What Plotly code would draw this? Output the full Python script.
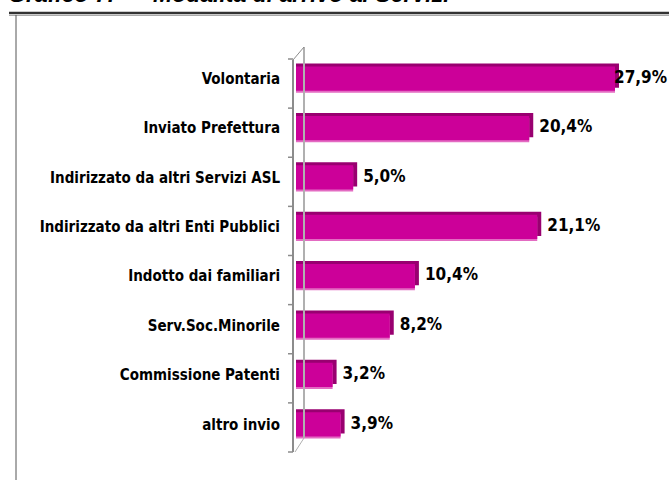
import plotly.graph_objects as go

categories = ["Volontaria", "Inviato Prefettura", "Indirizzato da altri Servizi ASL",
              "Indirizzato da altri Enti Pubblici", "Indotto dai familiari",
              "Serv.Soc.Minorile", "Commissione Patenti", "altro invio"]
values = [27.9, 20.4, 5.0, 21.1, 10.4, 8.2, 3.2, 3.9]
labels = [f"{v:.1f}%".replace(".", ",") for v in values]

W, H = 669, 480
ML, MR, MT, MB = 296, 30, 54, 31
XMAX = 30.0
pw = W - ML - MR
ph = H - MT - MB
px_per_unit = pw / XMAX
cat_px = ph / len(categories)
depth_x = 4 / px_per_unit
depth_y = 3 / cat_px
bw = 0.49
vmax = max(values)
label_x = [v + (depth_x + 6 / px_per_unit) if v < vmax else v - 1 / px_per_unit for v in values]

FONT = "Liberation Sans, Arial, sans-serif"
COND = "DejaVu Sans Condensed, Liberation Sans Narrow, Arial Narrow, sans-serif"

fig = go.Figure()
# back (top/side) face
fig.add_trace(go.Bar(y=categories, x=[v + depth_x for v in values], orientation="h",
                     width=bw, offset=-bw / 2 - depth_y,
                     marker=dict(color="#990070", line=dict(width=0)), hoverinfo="skip",
                     showlegend=False))
# light bottom edge
fig.add_trace(go.Bar(y=categories, x=values, orientation="h",
                     width=bw, offset=-bw / 2 + 2 / cat_px,
                     marker=dict(color="#E36BC2", line=dict(width=0)), hoverinfo="skip",
                     showlegend=False))
# main face
fig.add_trace(go.Bar(y=categories, x=values, orientation="h",
                     width=bw, offset=-bw / 2,
                     marker=dict(color="#CC0099", line=dict(width=0)),
                     showlegend=False))
# value labels
fig.add_trace(go.Scatter(y=categories, x=label_x, mode="text",
                         text=labels, textposition="middle right",
                         textfont=dict(family=COND, size=17, color="black", weight="bold"),
                         cliponaxis=False, showlegend=False, hoverinfo="skip"))

fig.update_layout(
    width=W, height=H, barmode="overlay",
    margin=dict(l=ML, r=MR, t=MT, b=MB, autoexpand=False),
    paper_bgcolor="white", plot_bgcolor="white",
    xaxis=dict(range=[0, XMAX], visible=False, fixedrange=True),
    yaxis=dict(categoryorder="array", categoryarray=categories, autorange="reversed",
               showgrid=False, zeroline=False, showline=False, automargin=False,
               ticks="", ticklabelstandoff=15,
               tickfont=dict(family=COND, size=15, color="black", weight="bold")),
    font=dict(family=FONT),
)

# wall decoration (pixel-based paper coords)
def px(x):
    return (x - ML) / pw
def py(y):
    return 1 - (y - MT) / ph

shapes = []
gray = "#8c8c8c"
shapes.append(dict(type="line", xref="paper", yref="paper", x0=px(293), x1=px(293), y0=py(60), y1=py(452), line=dict(color=gray, width=2)))
shapes.append(dict(type="line", xref="paper", yref="paper", x0=px(304), x1=px(304), y0=py(47), y1=py(438), line=dict(color="#b0b0b0", width=2)))
shapes.append(dict(type="line", xref="paper", yref="paper", x0=px(293), x1=px(304), y0=py(60), y1=py(47), line=dict(color=gray, width=1)))
shapes.append(dict(type="line", xref="paper", yref="paper", x0=px(295), x1=px(304), y0=py(452), y1=py(438), line=dict(color="#b0b0b0", width=1)))
for i in range(len(categories) + 1):
    yb = 59 + i * (452 - 59) / len(categories)
    shapes.append(dict(type="line", xref="paper", yref="paper", x0=px(288), x1=px(293), y0=py(yb), y1=py(yb), line=dict(color=gray, width=1.5)))
# frame
shapes.append(dict(type="line", xref="paper", yref="paper", x0=px(9), x1=px(669), y0=py(13), y1=py(13), line=dict(color="#333333", width=2.5)))
shapes.append(dict(type="line", xref="paper", yref="paper", x0=px(9), x1=px(669), y0=py(15.5), y1=py(15.5), line=dict(color="#aaaaaa", width=1)))
shapes.append(dict(type="line", xref="paper", yref="paper", x0=px(16), x1=px(16), y0=py(15), y1=py(480), line=dict(color="#555555", width=1)))
fig.update_layout(shapes=shapes)

TITLE_SIZE = 23
fig.add_annotation(xref="paper", yref="paper", x=px(6), y=py(-6), xanchor="left", yanchor="middle",
                   text="<b><i>Grafico 7.</i></b>", showarrow=False,
                   font=dict(family=FONT, size=TITLE_SIZE, color="black"))
fig.add_annotation(xref="paper", yref="paper", x=px(115), y=py(-12), xanchor="left", yanchor="middle",
                   text="<b><i>–</i></b>", showarrow=False,
                   font=dict(family=FONT, size=TITLE_SIZE, color="black"))
fig.add_annotation(xref="paper", yref="paper", x=px(151), y=py(-6), xanchor="left", yanchor="middle",
                   text="<b><i>Modalità di arrivo ai Servizi</i></b>", showarrow=False,
                   font=dict(family=FONT, size=TITLE_SIZE, color="black"))

fig.write_html("out.html", config={"displayModeBar": False},
               post_script="document.body.style.margin='0px';document.body.style.padding='0px';")
